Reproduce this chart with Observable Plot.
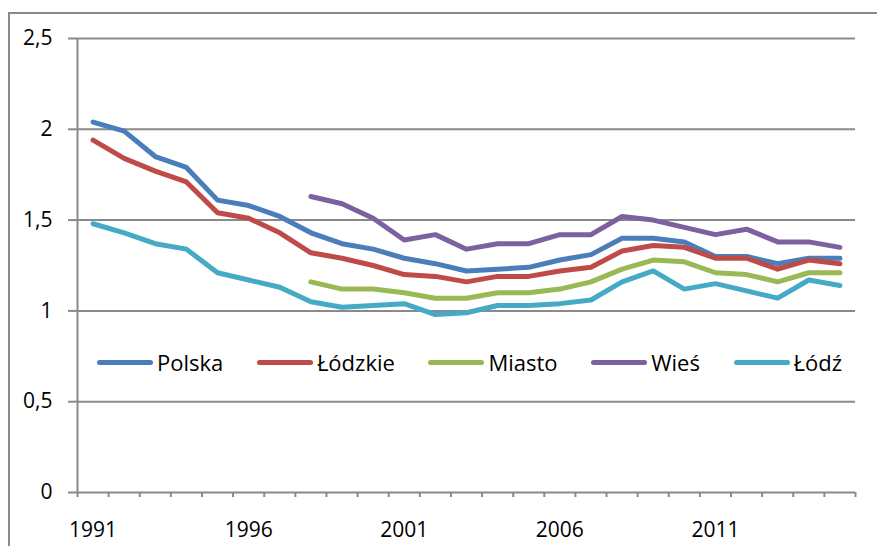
<!DOCTYPE html>
<html>
<head>
<meta charset="utf-8">
<script src="https://cdn.jsdelivr.net/npm/d3@7"></script>
<script src="https://cdn.jsdelivr.net/npm/@observablehq/plot@0.6"></script>
<style>
  html, body { margin: 0; padding: 0; background: #fff; }
  #wrap { position: relative; width: 877px; height: 546px; overflow: hidden; font-family: "Open Sans", sans-serif; }
  #wrap svg { position: absolute; left: 0; top: 0; }
  #frame { position: absolute; left: 8px; top: 12px; width: 900px; height: 600px; border-left: 2px solid #8a8a8a; border-top: 2px solid #8a8a8a; box-sizing: border-box; }
  #legend { position: absolute; left: 97px; width: 745px; top: 347px; display: flex; justify-content: space-between; align-items: center; font-size: 22px; color: #000; }
  .item { display: flex; align-items: center; }
  .sw { width: 56px; height: 5px; border-radius: 3px; margin-right: 4px; }
</style>
</head>
<body>
<div id="wrap">
  <div id="frame"></div>
</div>
<script>
const years = d3.range(1991, 2016);
const seriesNames = ["Polska", "Łódzkie", "Miasto", "Wieś", "Łódź"];
const seriesColors = ["#4A7EBB", "#BE4B48", "#98B954", "#7D60A0", "#46AAC5"];
const polska  = [2.04, 1.99, 1.85, 1.79, 1.61, 1.58, 1.52, 1.43, 1.37, 1.34, 1.29, 1.26, 1.22, 1.23, 1.24, 1.28, 1.31, 1.40, 1.40, 1.38, 1.30, 1.30, 1.26, 1.29, 1.29];
const lodzkie = [1.94, 1.84, 1.77, 1.71, 1.54, 1.51, 1.43, 1.32, 1.29, 1.25, 1.20, 1.19, 1.16, 1.19, 1.19, 1.22, 1.24, 1.33, 1.36, 1.35, 1.29, 1.29, 1.23, 1.28, 1.26];
const miasto  = [null, null, null, null, null, null, null, 1.16, 1.12, 1.12, 1.10, 1.07, 1.07, 1.10, 1.10, 1.12, 1.16, 1.23, 1.28, 1.27, 1.21, 1.20, 1.16, 1.21, 1.21];
const wies    = [null, null, null, null, null, null, null, 1.63, 1.59, 1.51, 1.39, 1.42, 1.34, 1.37, 1.37, 1.42, 1.42, 1.52, 1.50, 1.46, 1.42, 1.45, 1.38, 1.38, 1.35];
const lodz    = [1.48, 1.43, 1.37, 1.34, 1.21, 1.17, 1.13, 1.05, 1.02, 1.03, 1.04, 0.98, 0.99, 1.03, 1.03, 1.04, 1.06, 1.16, 1.22, 1.12, 1.15, 1.11, 1.07, 1.17, 1.14];
const yTicks = [0, 0.5, 1, 1.5, 2, 2.5];
const xLabelYears = [1991, 1996, 2001, 2006, 2011];

const allValues = [polska, lodzkie, miasto, wies, lodz];
const data = [];
seriesNames.forEach((name, s) => {
  years.forEach((yr, i) => data.push({series: name, year: yr, value: allValues[s][i]}));
});
const boundaries = years.map(y => y - 0.5).concat([years[years.length - 1] + 0.5]);
const gray = "#8a8a8a";
const fmt = d => String(d).replace(".", ",");

const chart = Plot.plot({
  width: 877,
  height: 546,
  marginLeft: 77,
  marginRight: 22,
  marginTop: 38,
  marginBottom: 54,
  style: {fontFamily: "'Open Sans', sans-serif", fontSize: "21px", color: "#000", background: "transparent"},
  x: {domain: [boundaries[0], boundaries[boundaries.length - 1]]},
  y: {domain: [0, 2.5]},
  color: {domain: seriesNames, range: seriesColors},
  marks: [
    Plot.gridY(yTicks, {stroke: gray, strokeOpacity: 1, strokeWidth: 2}),
    Plot.axisY(yTicks, {tickSize: 9, tickPadding: 16, stroke: gray, strokeWidth: 2, tickFormat: fmt, label: null, fill: "#000"}),
    Plot.ruleX([boundaries[0]], {stroke: gray, strokeWidth: 2}),
    Plot.axisX(boundaries, {tickSize: 5, tickFormat: () => "", stroke: gray, strokeWidth: 2, label: null}),
    Plot.axisX(xLabelYears, {tickSize: 0, tickPadding: 30, tickFormat: d => String(d), label: null, fill: "#000"}),
    Plot.line(data, {x: "year", y: "value", z: "series", stroke: "series", strokeWidth: 5, strokeLinejoin: "round", strokeLinecap: "round"})
  ]
});
const wrap = document.getElementById("wrap");
wrap.appendChild(chart);

const legend = document.createElement("div");
legend.id = "legend";
seriesNames.forEach((name, i) => {
  const item = document.createElement("div");
  item.className = "item";
  const sw = document.createElement("div");
  sw.className = "sw";
  sw.style.background = seriesColors[i];
  const label = document.createElement("span");
  label.textContent = name;
  item.appendChild(sw);
  item.appendChild(label);
  legend.appendChild(item);
});
wrap.appendChild(legend);
</script>
</body>
</html>
